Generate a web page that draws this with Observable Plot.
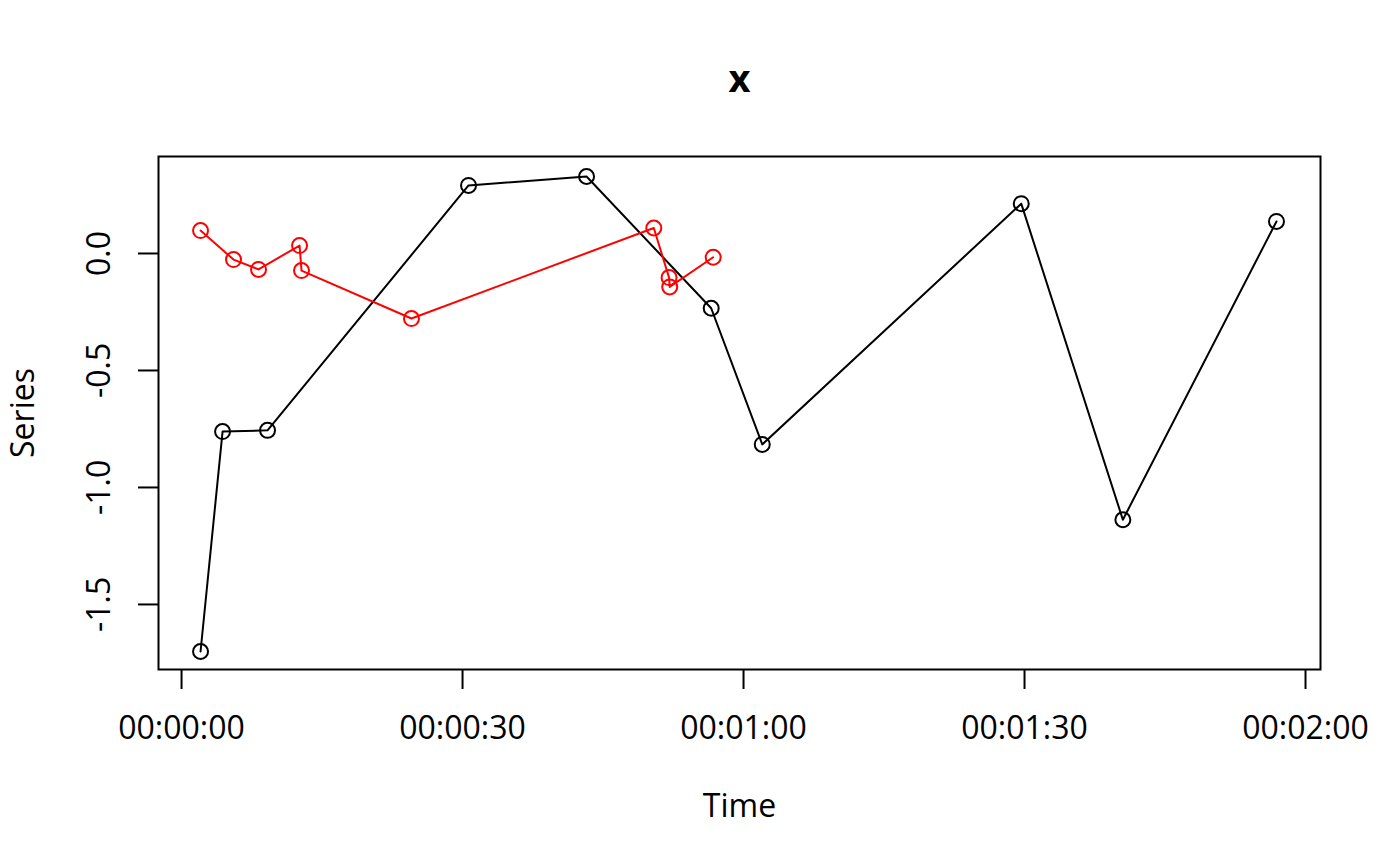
<!DOCTYPE html>
<html>
<head>
<meta charset="utf-8">
<script src="https://cdn.jsdelivr.net/npm/d3@7"></script>
<script src="https://cdn.jsdelivr.net/npm/@observablehq/plot@0.6"></script>
<style>
  body { margin: 0; background: white; }
  #chart svg { display: block; }
</style>
</head>
<body>
<div id="chart"></div>
<script>
// seconds since 00:00:00 and values
const blackSec = [2.03, 4.38, 9.18, 30.64, 43.24, 56.55, 62.0, 89.65, 100.5, 116.9]
const blackVal = [-1.701, -0.761, -0.756, 0.291, 0.329, -0.234, -0.816, 0.213, -1.138, 0.137]
const redSec = [2.03, 5.55, 8.22, 12.60, 12.81, 24.55, 50.42, 52.05, 52.12, 56.76]
const redVal = [0.098, -0.026, -0.068, 0.034, -0.073, -0.278, 0.109, -0.103, -0.143, -0.016]
const xTickSec = [0, 30, 60, 90, 120]
const yTicks = [-1.5, -1.0, -0.5, 0.0]

const toTime = s => new Date(Date.UTC(1970, 0, 1) + s * 1000)
const black = blackSec.map((s, i) => ({time: toTime(s), value: blackVal[i]}))
const red = redSec.map((s, i) => ({time: toTime(s), value: redVal[i]}))

const font = 'Open Sans'
const fmtTime = d3.utcFormat('%H:%M:%S')

let chart = Plot.plot({
  width: 1400,
  height: 866,
  marginLeft: 158,
  marginRight: 80,
  marginTop: 156,
  marginBottom: 197,
  style: {fontFamily: font, background: 'white'},
  x: {type: 'utc', domain: [toTime(-2.46), toTime(121.6)]},
  y: {domain: [-1.778, 0.4145]},
  marks: [
    Plot.axisX({
      ticks: xTickSec.map(toTime),
      tickFormat: fmtTime,
      tickSize: 20,
      tickPadding: 26.5,
      strokeWidth: 2,
      fontSize: 32,
      fill: 'black',
      label: null,
    }),
    Plot.axisY({
      ticks: yTicks,
      tickFormat: () => '',
      tickSize: 20,
      strokeWidth: 2,
      label: null,
    }),
    Plot.text(yTicks, {
      y: d => d,
      text: d => d.toFixed(1),
      frameAnchor: 'left',
      textAnchor: 'middle',
      lineAnchor: 'middle',
      dx: -59,
      rotate: -90,
      fontSize: 32,
      fill: 'black',
    }),
    Plot.frame({stroke: 'black', strokeWidth: 2}),
    Plot.line(black, {x: 'time', y: 'value', stroke: 'black', strokeWidth: 2}),
    Plot.dot(black, {x: 'time', y: 'value', r: 7.5, stroke: 'black', strokeWidth: 2, fill: 'none'}),
    Plot.line(red, {x: 'time', y: 'value', stroke: 'red', strokeWidth: 2}),
    Plot.dot(red, {x: 'time', y: 'value', r: 7.5, stroke: 'red', strokeWidth: 2, fill: 'none'}),
    // title and axis titles
    Plot.text(['x'], {frameAnchor: 'top', lineAnchor: 'middle', dy: -76.5, text: d => d, fontSize: 38, fontWeight: 'bold', fill: 'black'}),
    Plot.text(['Time'], {frameAnchor: 'bottom', lineAnchor: 'middle', dy: 137.5, text: d => d, fontSize: 32, fill: 'black'}),
    Plot.text(['Series'], {frameAnchor: 'left', textAnchor: 'middle', lineAnchor: 'middle', dx: -135, rotate: -90, text: d => d, fontSize: 32, fill: 'black'}),
  ],
})
d3.select('#chart').append(() => chart)
</script>
</body>
</html>
